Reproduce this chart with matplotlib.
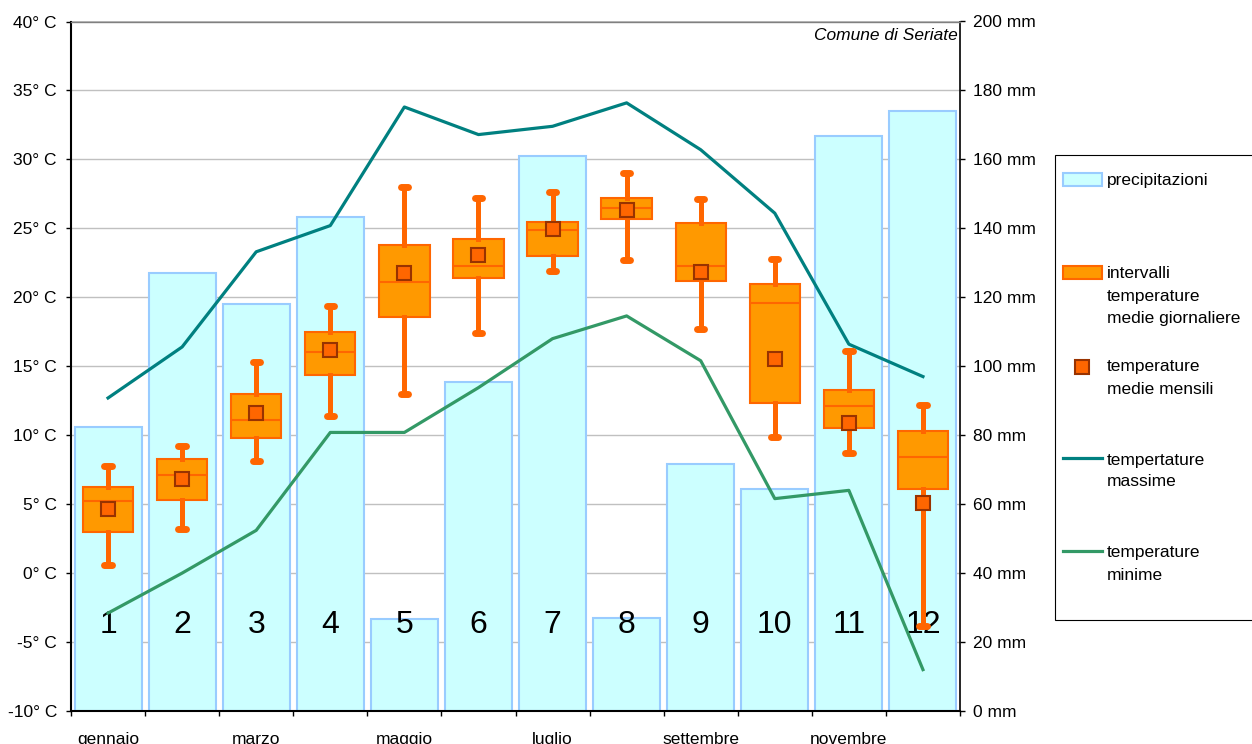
import numpy as np
import matplotlib
matplotlib.use("Agg")
import matplotlib.pyplot as plt
from matplotlib.patches import Rectangle
from matplotlib.lines import Line2D

plt.rcParams['font.family'] = ['Liberation Sans', 'DejaVu Sans']

# data
months = list(range(1, 13))
month_names = ['gennaio', 'febbraio', 'marzo', 'aprile', 'maggio', 'giugno',
               'luglio', 'agosto', 'settembre', 'ottobre', 'novembre', 'dicembre']
precip = [82.4, 127.1, 118.2, 143.4, 26.7, 95.3, 161.1, 27.1, 71.7, 64.4, 166.7, 174.1]
t_max = [12.7, 16.4, 23.3, 25.2, 33.8, 31.8, 32.4, 34.1, 30.7, 26.1, 16.6, 14.25]
t_min = [-2.9, 0.0, 3.1, 10.2, 10.2, 13.45, 17.0, 18.65, 15.4, 5.4, 6.0, -7.0]
# daily mean temperature ranges (whiskers / box / median) and monthly mean
whis_lo = [0.6, 3.2, 8.1, 11.4, 13.0, 17.4, 21.9, 22.7, 17.7, 9.9, 8.7, -3.8]
q1 = [3.0, 5.3, 9.8, 14.4, 18.6, 21.4, 23.0, 25.7, 21.2, 12.3, 10.5, 6.1]
med = [5.2, 7.1, 11.1, 16.0, 21.1, 22.3, 24.9, 26.5, 22.3, 19.6, 12.1, 8.4]
q3 = [6.25, 8.25, 13.0, 17.5, 23.8, 24.2, 25.45, 27.2, 25.4, 21.0, 13.3, 10.3]
whis_hi = [7.8, 9.2, 15.3, 19.4, 28.0, 27.2, 27.6, 29.0, 27.1, 22.8, 16.1, 12.2]
t_mean = [4.65, 6.85, 11.6, 16.2, 21.75, 23.1, 24.95, 26.3, 21.8, 15.55, 10.9, 5.1]

temp_ticks = list(range(-10, 41, 5))
mm_ticks = list(range(0, 201, 20))

W, H = 1252, 744
fig = plt.figure(figsize=(W / 100, H / 100), dpi=100)

def fx(x):
    return x / W

def fy(y):
    return 1 - y / H

ax = fig.add_axes([fx(71), fy(711), (960 - 71) / W, (711 - 21.5) / H])
ax2 = ax.twinx()
ax.set_zorder(ax2.get_zorder() + 1)
ax.patch.set_visible(False)

# precipitation bars (behind)
ax2.set_axisbelow(True)
ax2.grid(axis='y', color='#C0C0C0', lw=1)
ax2.bar(months, precip, width=0.905, color='#CCFFFF', edgecolor='#99CCFF', lw=1.5)
ax2.set_ylim(0, 200)
ax2.set_yticks(mm_ticks)
ax2.set_yticklabels([f"{v} mm" for v in mm_ticks])
ax2.tick_params(axis='y', length=3.6, width=1, pad=5.5, labelsize=12.5)
for s in ax2.spines.values():
    s.set_visible(False)

# month numbers
for m in months:
    ax.text(m, -4.35, str(m), fontsize=23, ha='center', va='baseline', zorder=1)

# max/min lines
ax.plot(months, t_max, color='#008080', lw=2.3, zorder=3)
ax.plot(months, t_min, color='#339966', lw=2.3, zorder=3)

# boxes
stats = []
for i in range(12):
    stats.append(dict(whislo=whis_lo[i], q1=q1[i], med=med[i], q3=q3[i],
                      whishi=whis_hi[i], mean=t_mean[i], fliers=[]))
ax.bxp(stats, positions=months, widths=0.68, capwidths=0.1, patch_artist=True,
       showmeans=True, manage_ticks=False, zorder=4,
       boxprops=dict(facecolor='#FF9900', edgecolor='#FF6600', linewidth=1.5),
       whiskerprops=dict(color='#FF6600', linewidth=3.6),
       capprops=dict(color='#FF6600', linewidth=5, solid_capstyle='round'),
       medianprops=dict(color='#FF6600', linewidth=1.5),
       meanprops=dict(marker='s', markerfacecolor='#FF6600', markeredgecolor='#993300',
                      markersize=10, markeredgewidth=1.5))

ax.set_xlim(0.5, 12.5)
ax.set_ylim(-10, 40)
ax.set_yticks(temp_ticks)
ax.set_yticklabels([f"{t}° C" for t in temp_ticks])
ax.tick_params(axis='y', length=3.6, width=1, pad=6.5, labelsize=12.5)

ax.set_xticks(np.arange(0.5, 12.6, 1.0))
ax.set_xticklabels([])
ax.set_xticks(months[::2], minor=True)
ax.set_xticklabels(month_names[::2], minor=True)
ax.tick_params(axis='x', which='major', length=3.6, width=1)
ax.tick_params(axis='x', which='minor', length=0, pad=15, labelsize=12.5)

ax.spines['left'].set_color('black')
ax.spines['left'].set_linewidth(1.5)
ax.spines['bottom'].set_color('black')
ax.spines['bottom'].set_linewidth(1.5)
ax.spines['right'].set_color('black')
ax.spines['right'].set_linewidth(1.2)
ax.spines['top'].set_color('#808080')
ax.spines['top'].set_linewidth(1)

ax.text(0.998, 0.979, 'Comune di Seriate', transform=ax.transAxes, ha='right',
        va='center', fontsize=12.5, style='italic')

# legend drawn by hand (entries aligned to first text line)
fig.add_artist(Rectangle((fx(1055), fy(620)), fx(1300) - fx(1055), fy(155) - fy(620),
                         transform=fig.transFigure, facecolor='white', edgecolor='black', lw=0.8))
fig.add_artist(Rectangle((fx(1063), fy(186)), fx(1102) - fx(1063), fy(173) - fy(186),
                         transform=fig.transFigure, facecolor='#CCFFFF', edgecolor='#99CCFF', lw=1.5))
fig.add_artist(Rectangle((fx(1063), fy(279)), fx(1102) - fx(1063), fy(266) - fy(279),
                         transform=fig.transFigure, facecolor='#FF9900', edgecolor='#FF6600', lw=1.5))
fig.add_artist(Line2D([fx(1082)], [fy(367)], transform=fig.transFigure, marker='s',
                      markerfacecolor='#FF6600', markeredgecolor='#993300', markersize=10,
                      markeredgewidth=1.5, linestyle='none'))
fig.add_artist(Line2D([fx(1063), fx(1102)], [fy(458), fy(458)], transform=fig.transFigure,
                      color='#008080', lw=2.3))
fig.add_artist(Line2D([fx(1063), fx(1102)], [fy(551), fy(551)], transform=fig.transFigure,
                      color='#339966', lw=2.3))

legend_lines = [
    (181, 'precipitazioni'),
    (274, 'intervalli'), (296.5, 'temperature'), (319, 'medie giornaliere'),
    (367, 'temperature'), (389.5, 'medie mensili'),
    (460, 'tempertature'), (482, 'massime'),
    (553, 'temperature'), (575, 'minime'),
]
for y, txt in legend_lines:
    fig.text(fx(1107), fy(y), txt, fontsize=12.5, ha='left', va='center')

fig.savefig('out.png', dpi=100)
